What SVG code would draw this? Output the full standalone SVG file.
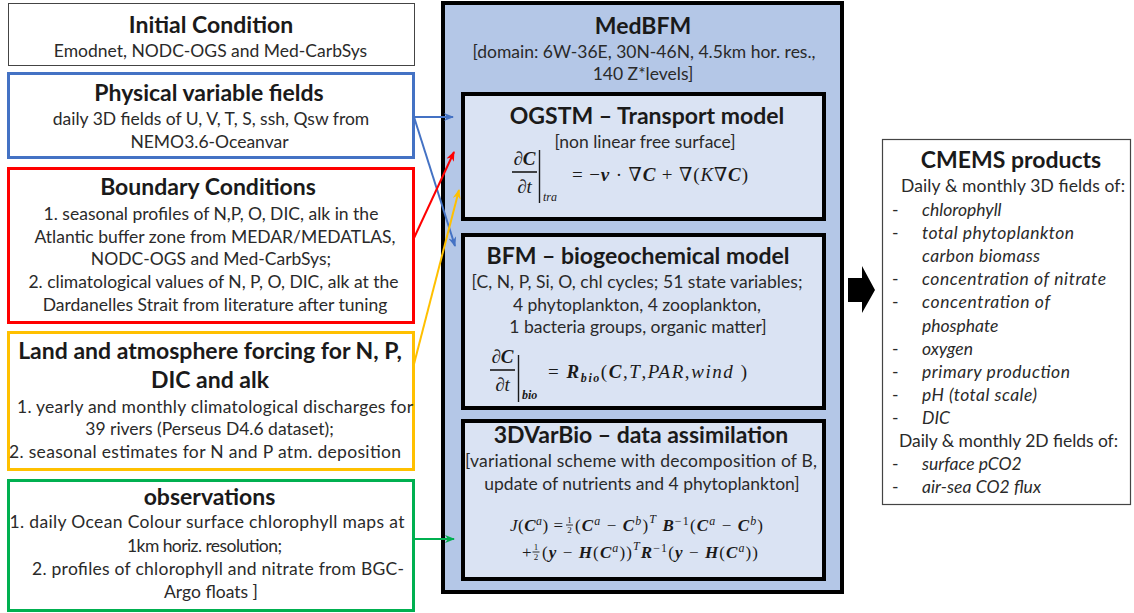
<svg xmlns="http://www.w3.org/2000/svg" width="1134" height="613" viewBox="0 0 1134 613">
<style>
text{font-family:Lato,"Liberation Sans",sans-serif;fill:#1a1a1a}
.t{font-size:23px;font-weight:bold;text-anchor:middle}
.b{font-size:17.5px;text-anchor:middle;fill:#2a2a2a}
.l{font-size:17.5px;fill:#2a2a2a}
.i{font-size:17.5px;font-style:italic;fill:#2a2a2a}
.m{font-family:"Liberation Serif","DejaVu Serif",serif;font-size:19px}
.j{font-size:17px}
.fr{font-family:"Liberation Serif","DejaVu Serif",serif;font-size:9px;text-anchor:middle}
.bi{font-weight:bold;font-style:italic}
.it{font-style:italic}
.sm{font-size:12px}
.box{fill:#fff}
.inner{fill:#DAE3F3;stroke:#000;stroke-width:4}
.con{fill:none;stroke-width:2}
</style>
<defs>
<marker id="ab" markerWidth="10" markerHeight="8" refX="9" refY="4" orient="auto" markerUnits="userSpaceOnUse"><path d="M0,0 L10,4 L0,8 L3,4 z" fill="#4472C4"/></marker>
<marker id="ar" markerWidth="10" markerHeight="8" refX="9" refY="4" orient="auto" markerUnits="userSpaceOnUse"><path d="M0,0 L10,4 L0,8 L3,4 z" fill="#FF0000"/></marker>
<marker id="ay" markerWidth="10" markerHeight="8" refX="9" refY="4" orient="auto" markerUnits="userSpaceOnUse"><path d="M0,0 L10,4 L0,8 L3,4 z" fill="#FFC000"/></marker>
<marker id="ag" markerWidth="10" markerHeight="8" refX="9" refY="4" orient="auto" markerUnits="userSpaceOnUse"><path d="M0,0 L10,4 L0,8 L3,4 z" fill="#00B050"/></marker>
</defs>

<g id="initial-condition">
<rect class="box" x="8.5" y="3.5" width="406" height="62" stroke="#444" stroke-width="1"/>
<text class="t" x="211" y="33">Initial Condition</text>
<text class="b" x="210.5" y="57">Emodnet, NODC-OGS and Med-CarbSys</text>
</g>

<g id="physical-fields">
<rect class="box" x="8.5" y="73.5" width="405" height="84" stroke="#4472C4" stroke-width="3"/>
<text class="t" x="209" y="101">Physical variable fields</text>
<text class="b" x="211" y="125">daily 3D fields of U, V, T, S, ssh, Qsw from</text>
<text class="b" x="209.5" y="148">NEMO3.6-Oceanvar</text>
</g>

<g id="boundary-conditions">
<rect class="box" x="8.5" y="168.5" width="405" height="154" stroke="#FF0000" stroke-width="3"/>
<text class="t" x="208" y="195">Boundary Conditions</text>
<text class="b" x="211" y="220">1. seasonal profiles of N,P, O, DIC, alk in the</text>
<text class="b" x="215" y="243">Atlantic buffer zone from MEDAR/MEDATLAS,</text>
<text class="b" x="211" y="265">NODC-OGS and Med-CarbSys;</text>
<text class="b" x="213.5" y="288">2. climatological values of N, P, O, DIC, alk at the</text>
<text class="b" x="215" y="311">Dardanelles Strait from literature after tuning</text>
</g>

<g id="land-atmosphere">
<rect class="box" x="8.5" y="332.5" width="405" height="137" stroke="#FFC000" stroke-width="3"/>
<text class="t" x="210" y="359">Land and atmosphere forcing for N, P,</text>
<text class="t" x="210" y="388">DIC and alk</text>
<text class="b" x="215" y="413" textLength="396">1. yearly and monthly climatological discharges for</text>
<text class="b" x="209.5" y="435">39 rivers (Perseus D4.6 dataset);</text>
<text class="b" x="205" y="458" textLength="392">2. seasonal estimates for N and P atm. deposition</text>
</g>

<g id="observations">
<rect class="box" x="8.5" y="480.5" width="405" height="130" stroke="#00B050" stroke-width="3"/>
<text class="t" x="209.5" y="505">observations</text>
<text class="b" x="207" y="528" textLength="395">1. daily Ocean Colour surface chlorophyll maps at</text>
<text class="b" x="204.5" y="552" textLength="155">1km horiz. resolution;</text>
<text class="b" x="218" y="575" textLength="372">2. profiles of chlorophyll and nitrate from BGC-</text>
<text class="b" x="211" y="598">Argo floats ]</text>
</g>

<g id="medbfm">
<rect x="443" y="3" width="399" height="589" fill="#B4C7E7" stroke="#000" stroke-width="4"/>
<text class="t" x="643" y="34">MedBFM</text>
<text class="b" x="644" y="58">[domain: 6W-36E, 30N-46N, 4.5km hor. res.,</text>
<text class="b" x="643" y="80">140 Z*levels]</text>
</g>

<g id="ogstm">
<rect class="inner" x="463" y="94" width="361" height="125"/>
<text class="t" x="647" y="124">OGSTM – Transport model</text>
<text class="b" x="645" y="148">[non linear free surface]</text>
<text class="m bi" x="524.5" y="165" text-anchor="middle">∂C</text>
<line x1="512" y1="172" x2="537" y2="172" stroke="#1a1a1a" stroke-width="1.6"/>
<text class="m it" x="524.5" y="193" text-anchor="middle">∂t</text>
<line x1="539.5" y1="150" x2="539.5" y2="203" stroke="#1a1a1a" stroke-width="1.4"/>
<text class="m it sm" x="543" y="201">tra</text>
<text class="m" x="572" y="181" textLength="176">= −<tspan class="bi">v</tspan> · ∇<tspan class="bi">C</tspan> + ∇(<tspan class="it">K</tspan>∇<tspan class="bi">C</tspan>)</text>
</g>

<g id="bfm">
<rect class="inner" x="463" y="235" width="361" height="173"/>
<text class="t" x="638" y="264">BFM – biogeochemical model</text>
<text class="b" x="637" y="288" textLength="331">[C, N, P, Si, O, chl cycles; 51 state variables;</text>
<text class="b" x="637" y="311">4 phytoplankton,  4 zooplankton,</text>
<text class="b" x="638" y="333">1 bacteria groups, organic matter]</text>
<text class="m bi" x="502.5" y="363" text-anchor="middle">∂C</text>
<line x1="490" y1="370" x2="515" y2="370" stroke="#1a1a1a" stroke-width="1.6"/>
<text class="m it" x="502.5" y="391" text-anchor="middle">∂t</text>
<line x1="518.5" y1="355" x2="518.5" y2="402" stroke="#1a1a1a" stroke-width="1.4"/>
<text class="m bi sm" x="522" y="399">bio</text>
<text class="m" x="548" y="378" textLength="199">= <tspan class="bi">R</tspan><tspan class="bi sm" dy="4">bio</tspan><tspan dy="-4">(</tspan><tspan class="bi">C</tspan>,<tspan class="it">T</tspan>,<tspan class="it">PAR</tspan>,<tspan class="it">wind</tspan> )</text>
</g>

<g id="3dvarbio">
<rect class="inner" x="463" y="421" width="361" height="158"/>
<text class="t" x="641" y="443">3DVarBio – data assimilation</text>
<text class="b" x="641" y="467" textLength="352">[variational scheme with decomposition  of B,</text>
<text class="b" x="642" y="490">update of nutrients and 4 phytoplankton]</text>
<text class="m j" x="510" y="531" textLength="53"><tspan class="it">J</tspan>(<tspan class="bi">C</tspan><tspan class="it sm" dy="-6">a</tspan><tspan dy="6">) =</tspan></text>
<text class="fr" x="569.5" y="523">1</text>
<line x1="566" y1="525" x2="573" y2="525" stroke="#1a1a1a" stroke-width="0.9"/>
<text class="fr" x="569.5" y="533">2</text>
<text class="m j" x="575" y="531" textLength="188">(<tspan class="bi">C</tspan><tspan class="it sm" dy="-6">a</tspan><tspan dy="6"> − </tspan><tspan class="bi">C</tspan><tspan class="it sm" dy="-6">b</tspan><tspan dy="6">)</tspan><tspan class="it sm" dy="-8">T</tspan><tspan dy="8"> </tspan><tspan class="bi">B</tspan><tspan class="sm" dy="-6">−1</tspan><tspan dy="6">(</tspan><tspan class="bi">C</tspan><tspan class="it sm" dy="-6">a</tspan><tspan dy="6"> − </tspan><tspan class="bi">C</tspan><tspan class="it sm" dy="-6">b</tspan><tspan dy="6">)</tspan></text>
<text class="m j" x="522" y="558">+</text>
<text class="fr" x="536" y="550">1</text>
<line x1="532.5" y1="552" x2="539.5" y2="552" stroke="#1a1a1a" stroke-width="0.9"/>
<text class="fr" x="536" y="560">2</text>
<text class="m j" x="542" y="558" textLength="216">(<tspan class="bi">y</tspan> − <tspan class="bi">H</tspan>(<tspan class="bi">C</tspan><tspan class="it sm" dy="-6">a</tspan><tspan dy="6">))</tspan><tspan class="it sm" dy="-8">T</tspan><tspan class="bi" dy="8">R</tspan><tspan class="sm" dy="-6">−1</tspan><tspan dy="6">(</tspan><tspan class="bi">y</tspan> − <tspan class="bi">H</tspan>(<tspan class="bi">C</tspan><tspan class="it sm" dy="-6">a</tspan><tspan dy="6">))</tspan></text>
</g>

<g id="output-arrow">
<polygon points="848,278 862,278 862,266 875,290 862,313 862,302 848,302" fill="#000"/>
</g>

<g id="cmems-products">
<rect class="box" x="882.5" y="139.5" width="248" height="365" stroke="#444" stroke-width="1.2"/>
<text class="t" x="1011" y="168">CMEMS products</text>
<text class="l" x="901" y="192" textLength="224">Daily &amp; monthly 3D fields of:</text>
<g>
<text class="l" x="892" y="216">-</text>
<text class="l" x="892" y="239">-</text>
<text class="l" x="892" y="285">-</text>
<text class="l" x="892" y="308">-</text>
<text class="l" x="892" y="355">-</text>
<text class="l" x="892" y="378">-</text>
<text class="l" x="892" y="401">-</text>
<text class="l" x="892" y="424">-</text>
<text class="l" x="892" y="470">-</text>
<text class="l" x="892" y="493">-</text>
</g>
<text class="i" x="922" y="216">chlorophyll</text>
<text class="i" x="922" y="239" textLength="152">total phytoplankton</text>
<text class="i" x="922" y="262" textLength="118">carbon biomass</text>
<text class="i" x="922" y="285" textLength="184">concentration of nitrate</text>
<text class="i" x="922" y="308" textLength="128">concentration of</text>
<text class="i" x="922" y="332">phosphate</text>
<text class="i" x="922" y="355">oxygen</text>
<text class="i" x="922" y="378" textLength="148">primary production</text>
<text class="i" x="922" y="401" textLength="115">pH (total scale)</text>
<text class="i" x="922" y="424">DIC</text>
<text class="l" x="899" y="447" textLength="219">Daily &amp; monthly 2D fields of:</text>
<text class="i" x="922" y="470">surface pCO2</text>
<text class="i" x="922" y="493" textLength="119">air-sea CO2 flux</text>
</g>

<g id="connectors">
<line class="con" x1="414" y1="117" x2="453" y2="117" stroke="#4472C4" marker-end="url(#ab)"/>
<line class="con" x1="414" y1="117" x2="455" y2="246" stroke="#4472C4" marker-end="url(#ab)"/>
<line class="con" x1="414" y1="238" x2="454" y2="152" stroke="#FF0000" marker-end="url(#ar)"/>
<line class="con" x1="414" y1="364" x2="459" y2="190" stroke="#FFC000" marker-end="url(#ay)"/>
<line class="con" x1="414" y1="539" x2="454" y2="539" stroke="#00B050" marker-end="url(#ag)"/>
</g>
</svg>
